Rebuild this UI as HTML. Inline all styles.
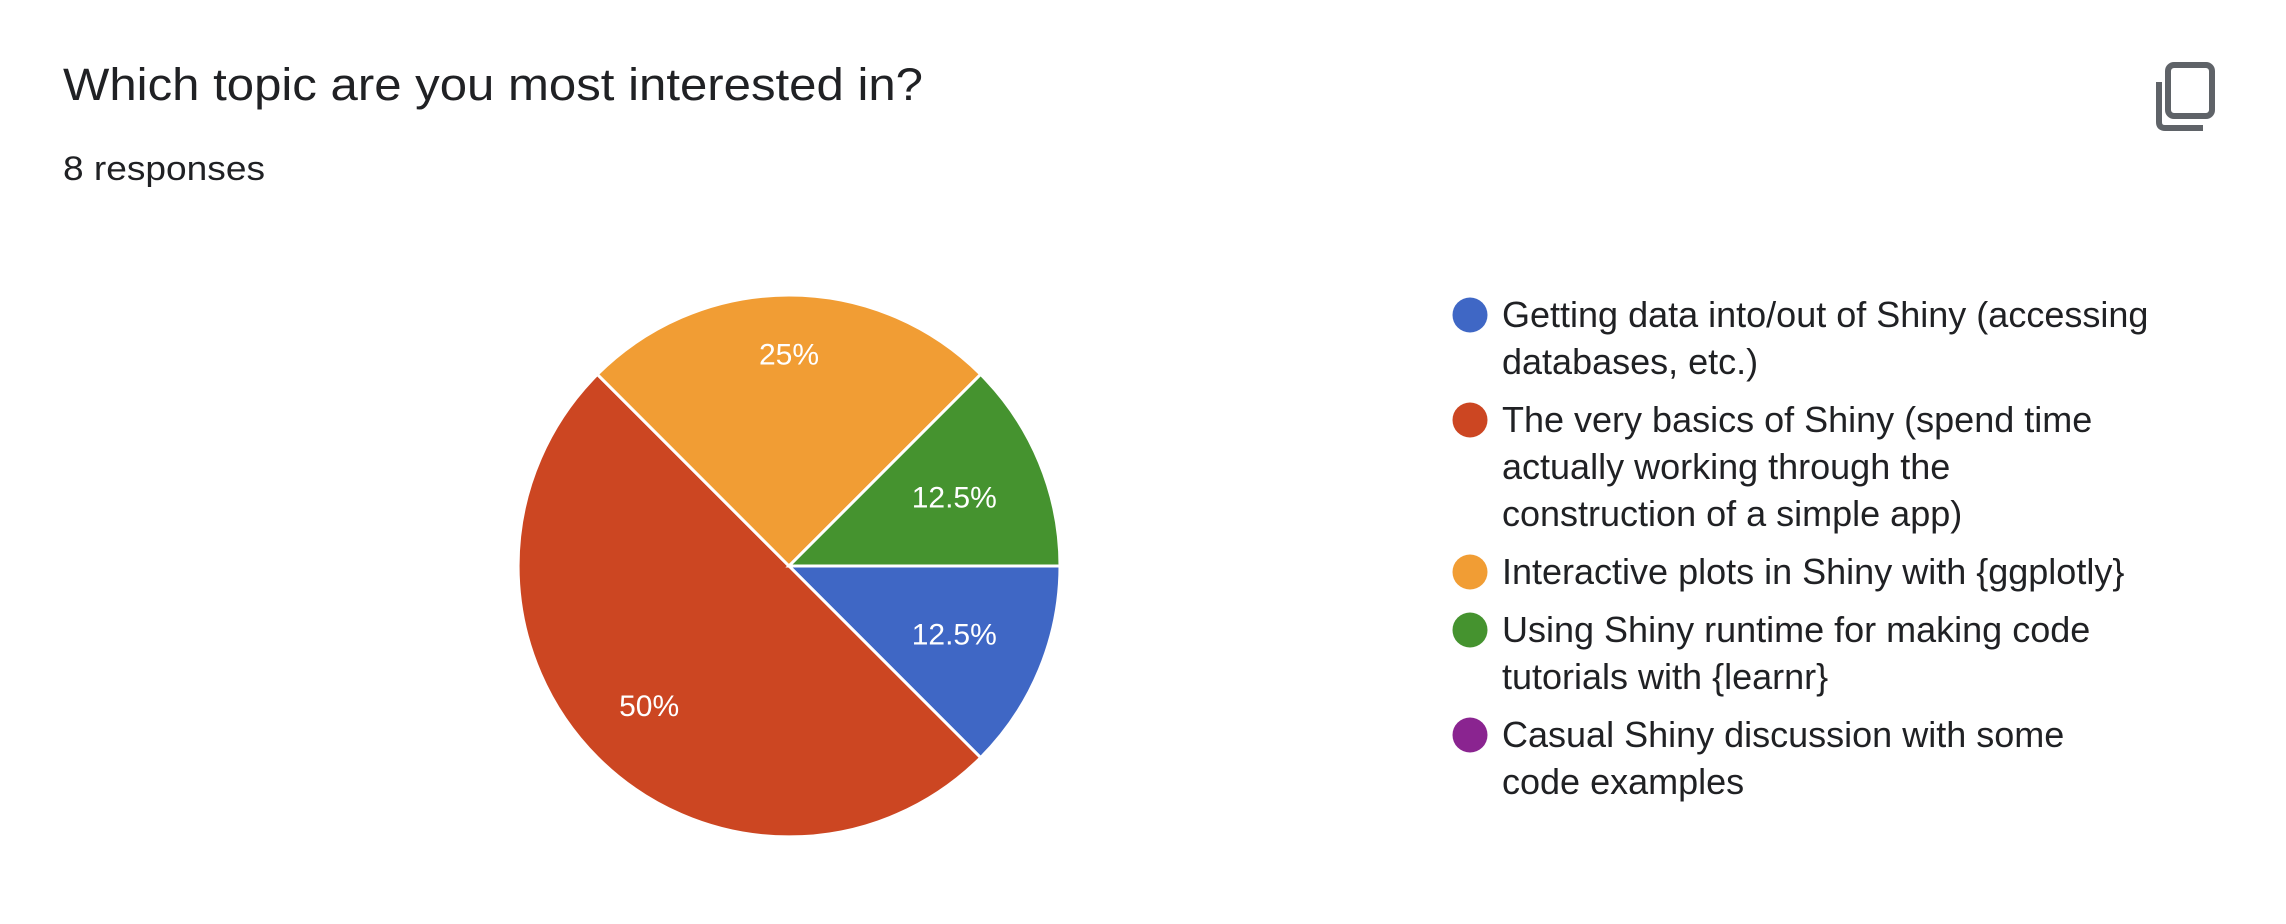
<!DOCTYPE html>
<html><head><meta charset="utf-8"><style>
html,body{margin:0;padding:0;background:#fff;}
svg{display:block;font-family:"Liberation Sans",Arial,sans-serif;}
</style></head><body>
<svg id="chart" width="2286" height="924" viewBox="0 0 2286 924">
<text x="63" y="100" font-size="45" fill="#202124" textLength="860" lengthAdjust="spacingAndGlyphs">Which topic are you most interested in?</text>
<text x="63" y="180" font-size="34" fill="#202124" textLength="202" lengthAdjust="spacingAndGlyphs">8 responses</text>
<g fill="none" stroke="#5f6368" stroke-width="6">
<rect x="2168" y="65" width="44" height="51" rx="6"/>
<path d="M2159 82 V122 Q2159 128 2165 128 H2203"/>
</g>
<g id="slices"></g>
<g id="labels"></g>
<g id="legend"></g>
</svg>
<script>
const categories = ["Getting data into/out of Shiny (accessing databases, etc.)","The very basics of Shiny (spend time actually working through the construction of a simple app)","Interactive plots in Shiny with {ggplotly}","Using Shiny runtime for making code tutorials with {learnr}","Casual Shiny discussion with some code examples"];
const counts = [1,4,2,1,0];
const colors = ["#3f67c5","#cc4622","#f19d34","#45932f","#8a2490"];
const legendLines = [["Getting data into/out of Shiny (accessing","databases, etc.)"],["The very basics of Shiny (spend time","actually working through the","construction of a simple app)"],["Interactive plots in Shiny with {ggplotly}"],["Using Shiny runtime for making code","tutorials with {learnr}"],["Casual Shiny discussion with some","code examples"]];
const NS="http://www.w3.org/2000/svg";
const cx=789, cy=566, r=271;
const total=counts.reduce((a,b)=>a+b,0);
function pt(angle,rad){return [cx+rad*Math.cos(angle), cy+rad*Math.sin(angle)];}
function labelRadius(frac){ if(frac>=0.5) return r*0.73; if(frac>=0.25) return r*0.78; return r*0.66; }
let a0=0;
const sg=document.getElementById('slices'), lg=document.getElementById('labels');
counts.forEach((v,i)=>{
  if(v<=0) return;
  const frac=v/total;
  const sweep=frac*2*Math.PI, a1=a0+sweep;
  const p0=pt(a0,r), p1=pt(a1,r);
  const path=document.createElementNS(NS,'path');
  path.setAttribute('d',`M${cx} ${cy} L${p0[0]} ${p0[1]} A${r} ${r} 0 ${sweep>Math.PI?1:0} 1 ${p1[0]} ${p1[1]} Z`);
  path.setAttribute('fill',colors[i]);
  path.setAttribute('stroke','#fff');
  path.setAttribute('stroke-width','3');
  
  
  sg.appendChild(path);
  const mid=(a0+a1)/2;
  const lp=pt(mid,labelRadius(frac));
  const t=document.createElementNS(NS,'text');
  t.setAttribute('x',lp[0]); t.setAttribute('y',lp[1]+10);
  t.setAttribute('text-anchor','middle'); t.setAttribute('font-size','30'); t.setAttribute('fill','#fff');
  t.textContent=(Math.round(frac*1000)/10)+'%';
  
  
  lg.appendChild(t);
  a0=a1;
});
const leg=document.getElementById('legend');
let y=315;
legendLines.forEach((lines,i)=>{
  const c=document.createElementNS(NS,'circle');
  c.setAttribute('cx',1470); c.setAttribute('cy',y); c.setAttribute('r',17.5); c.setAttribute('fill',colors[i]);
  
  
  leg.appendChild(c);
  lines.forEach((ln,j)=>{
    const t=document.createElementNS(NS,'text');
    t.setAttribute('x',1502); t.setAttribute('y',y+12+j*47);
    t.setAttribute('font-size','36'); t.setAttribute('fill','#202124');
    t.textContent=ln;
    
    
    leg.appendChild(t);
  });
  y += lines.length*47 + 11;
});
</script>
</body></html>
